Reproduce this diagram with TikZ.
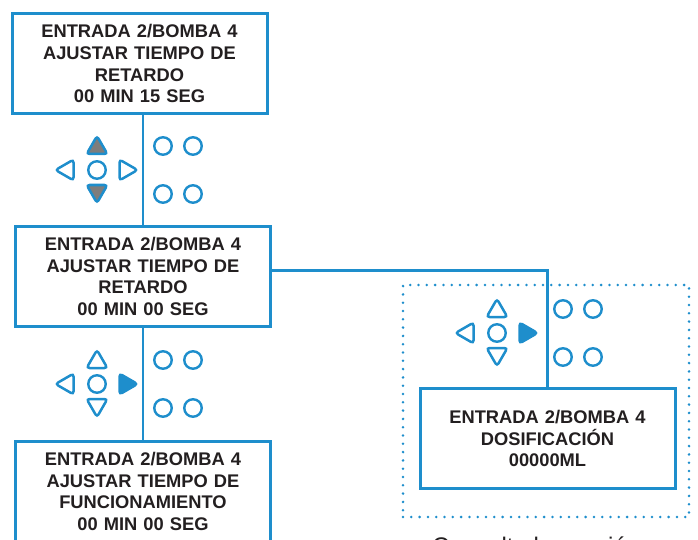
\documentclass[tikz,border=0pt]{standalone}
\usepackage{fontspec}
\setmainfont{Liberation Sans}
\usetikzlibrary{positioning,shapes.geometric}
\definecolor{panelblue}{RGB}{30,142,204}
\definecolor{inkgray}{RGB}{35,31,32}
\definecolor{keygray}{RGB}{125,125,125}
\tikzstyle{lcdbox}=[rectangle, draw=panelblue, line width=3pt, fill=white,
                    minimum width=255pt, minimum height=100pt, inner sep=0pt,
                    text width=250pt, align=center, text=inkgray,
                    font=\bfseries\fontsize{18.3}{21.7}\selectfont]
\tikzstyle{zonebox}=[rectangle, draw=panelblue, line width=2.8pt, line cap=round,
                    dash pattern=on 0pt off 8.3pt, minimum width=286pt, minimum height=232pt]
\tikzstyle{link}=[-, draw=panelblue, line width=2.6pt]
\tikzstyle{keyring}=[circle, draw=panelblue, line width=2.4pt, minimum size=17.5pt, inner sep=0pt]
\tikzstyle{keytri}=[regular polygon, regular polygon sides=3, draw=panelblue, line width=2.5pt,
                    minimum size=24pt, inner sep=0pt, rounded corners=3pt]
\tikzstyle{keyon}=[fill=keygray]
\tikzstyle{keysel}=[fill=panelblue]
% #1 name, #2 x, #3 y, #4 up/down keys, #5 right key
\newcommand{\keypad}[5]{%
 \begin{scope}[shift={(#2,#3)}]
  \node (#1mid) [keyring] at (0,0) {};
  \node (#1up) [keytri, #4] at (0,-22) {};
  \node (#1dn) [keytri, #4, shape border rotate=180] at (0,21) {};
  \node (#1lt) [keytri, shape border rotate=90] at (-29.5,0) {};
  \node (#1rt) [keytri, #5, shape border rotate=270] at (28.5,0) {};
  \node (#1a) [keyring] at (66,-24) {};
  \node (#1b) [keyring] at (96,-24) {};
  \node (#1c) [keyring] at (66,24) {};
  \node (#1d) [keyring] at (96,24) {};
 \end{scope}}

\begin{document}
\begin{tikzpicture}[x=1pt, y=-1pt]
\useasboundingbox (0,0) rectangle (698,540);
\clip (0,0) rectangle (698,540);

\node (DELAY) [lcdbox] at (139.5,63.8) {ENTRADA 2/BOMBA 4\\AJUSTAR TIEMPO DE\\RETARDO\\00 MIN 15 SEG};
\node (ZERO) [lcdbox] at (143,276.5) {ENTRADA 2/BOMBA 4\\AJUSTAR TIEMPO DE\\RETARDO\\00 MIN 00 SEG};
\node (RUN) [lcdbox,
below=112pt of ZERO] {ENTRADA 2/BOMBA 4\\AJUSTAR TIEMPO DE\\FUNCIONAMIENTO\\00 MIN 00 SEG};
\node (ZONE) [zonebox] at (546,401) {};
\node (DOSE) [lcdbox] at (547.5,438.5) {ENTRADA 2/BOMBA 4\\DOSIFICACIÓN\\00000ML};

 \draw[link] (ZERO.north |- DELAY.south) -- (ZERO.north);
 \draw[link] (RUN.north |- ZERO.south) -- (RUN.north);
 \draw[link] ([yshift=6pt]ZERO.east) -| (DOSE.north);

\keypad{kpA}{97}{170}{keyon}{}
\keypad{kpB}{97}{384}{}{keysel}
\keypad{kpC}{497}{333}{}{keysel}

\node (NOTE) [anchor=base west, inner sep=0pt, text=inkgray,
font=\fontsize{24}{28}\selectfont] at (432,554) {Consulte la sección};

\end{tikzpicture}
\end{document}
